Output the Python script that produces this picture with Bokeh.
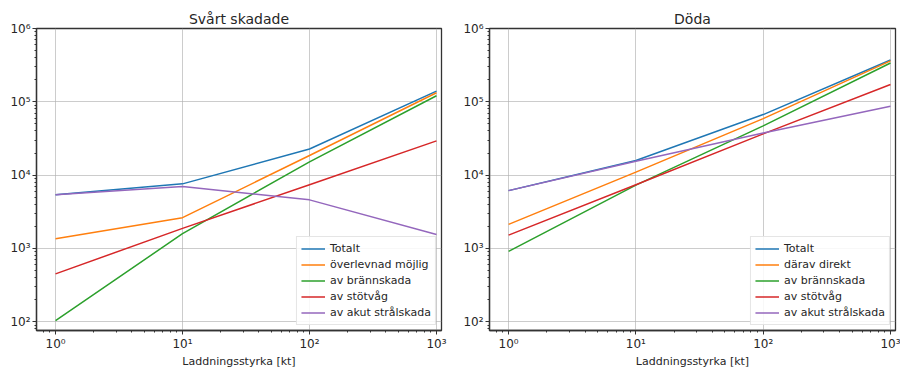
from bokeh.plotting import figure
from bokeh.layouts import row
from bokeh.models import (FixedTicker, CustomJSTickFormatter, Range1d, Legend, LegendItem)
from bokeh.embed import file_html
from bokeh.resources import INLINE

# ---- data ----
x_kt = [1, 10, 100, 1000]

# Svårt skadade
sv_totalt = [5400, 7600, 22700, 140000]
sv_overlevnad = [1360, 2630, 18500, 133000]
sv_brann = [104, 1590, 15200, 121000]
sv_stotvag = [450, 1880, 7400, 29300]
sv_stral = [5400, 7000, 4600, 1550]

# Döda
d_totalt = [6150, 15800, 67000, 372000]
d_direkt = [2130, 11000, 59000, 362000]
d_brann = [910, 7300, 47000, 338000]
d_stotvag = [1520, 7400, 36500, 172000]
d_stral = [6150, 15500, 37600, 87000]

left_labels = ["Totalt", "överlevnad möjlig", "av brännskada", "av stötvåg", "av akut strålskada"]
right_labels = ["Totalt", "därav direkt", "av brännskada", "av stötvåg", "av akut strålskada"]
colors = ["#1f77b4", "#ff7f0e", "#2ca02c", "#d62728", "#9467bd"]

titles = ["Svårt skadade", "Döda"]
xlabel = "Laddningsstyrka [kt]"
x_major = [1, 10, 100, 1000]
y_major = [100, 1000, 10000, 100000, 1000000]

FONT = "DejaVu Sans"
TXT = "#262626"


def minor(decades):
    out = []
    for d in decades:
        for m in range(2, 10):
            out.append(d * m)
    return out


sup_fmt = CustomJSTickFormatter(code="""
const e = Math.round(Math.log10(tick));
const sup = "⁰¹²³⁴⁵⁶⁷⁸⁹";
let s = String(Math.abs(e)).split('').map(c => sup[+c]).join('');
if (e < 0) s = "⁻" + s;
return "10" + s;
""")


def make_fig(title, series, labels, bl, br, frame_w):
    p = figure(x_axis_type="log", y_axis_type="log",
               x_range=Range1d(0.708, 1095), y_range=Range1d(76, 1.0e6),
               output_backend="svg", toolbar_location=None,
               min_border_left=bl, min_border_right=br, min_border_top=28,
               min_border_bottom=36)
    p.frame_width = frame_w
    p.frame_height = 302
    p.title.text = title
    p.title.align = "center"
    p.title.text_font = FONT
    p.title.text_font_size = "14px"
    p.title.text_font_style = "normal"
    p.title.text_color = TXT
    p.title.standoff = 3

    p.outline_line_color = "#333333"
    p.outline_line_width = 1.3
    p.background_fill_color = "white"
    p.border_fill_color = "white"

    p.xaxis.ticker = FixedTicker(ticks=x_major, minor_ticks=minor([0.1, 1, 10, 100, 1000]))
    p.yaxis.ticker = FixedTicker(ticks=y_major, minor_ticks=minor([10, 100, 1000, 10000, 100000]))
    for ax in (p.xaxis, p.yaxis):
        ax.formatter = sup_fmt
        ax.major_label_text_font = FONT
        ax.major_label_text_font_size = "12px"
        ax.major_label_text_color = TXT
        ax.major_tick_in = 0
        ax.major_tick_out = 4
        ax.minor_tick_in = 0
        ax.minor_tick_out = 2
        ax.major_tick_line_color = "#333333"
        ax.minor_tick_line_color = "#333333"
        ax.axis_line_color = "#333333"
        ax.axis_line_width = 1.3
        ax.major_label_standoff = 2
    p.xaxis.axis_label = xlabel
    p.xaxis.axis_label_text_font = FONT
    p.xaxis.axis_label_text_font_size = "11px"
    p.xaxis.axis_label_text_font_style = "normal"
    p.xaxis.axis_label_text_color = TXT
    p.xaxis.axis_label_standoff = 1

    p.xgrid.ticker = FixedTicker(ticks=x_major)
    p.ygrid.ticker = FixedTicker(ticks=y_major)
    p.grid.grid_line_color = "#b0b0b0"
    p.grid.grid_line_alpha = 0.65
    p.grid.grid_line_width = 1

    items = []
    for ys, lab, c in zip(series, labels, colors):
        r = p.line(x_kt, ys, line_color=c, line_width=1.5)
        items.append(LegendItem(label=lab, renderers=[r]))
    leg = Legend(items=items, location="bottom_right")
    leg.label_text_font = FONT
    leg.label_text_font_size = "11px"
    leg.label_text_color = TXT
    leg.glyph_width = 24
    leg.glyph_height = 15
    leg.label_height = 15
    leg.spacing = 1
    leg.padding = 4
    leg.margin = 5
    leg.border_line_color = "#cccccc"
    leg.border_line_width = 1
    leg.background_fill_alpha = 0.85
    p.add_layout(leg)
    return p


p1 = make_fig(titles[0], [sv_totalt, sv_overlevnad, sv_brann, sv_stotvag, sv_stral],
              left_labels, 36, 10, 405)
p2 = make_fig(titles[1], [d_totalt, d_direkt, d_brann, d_stotvag, d_stral],
              right_labels, 38, 5, 406)

layout = row(p1, p2)
open("out.html", "w").write(file_html(layout, INLINE))
